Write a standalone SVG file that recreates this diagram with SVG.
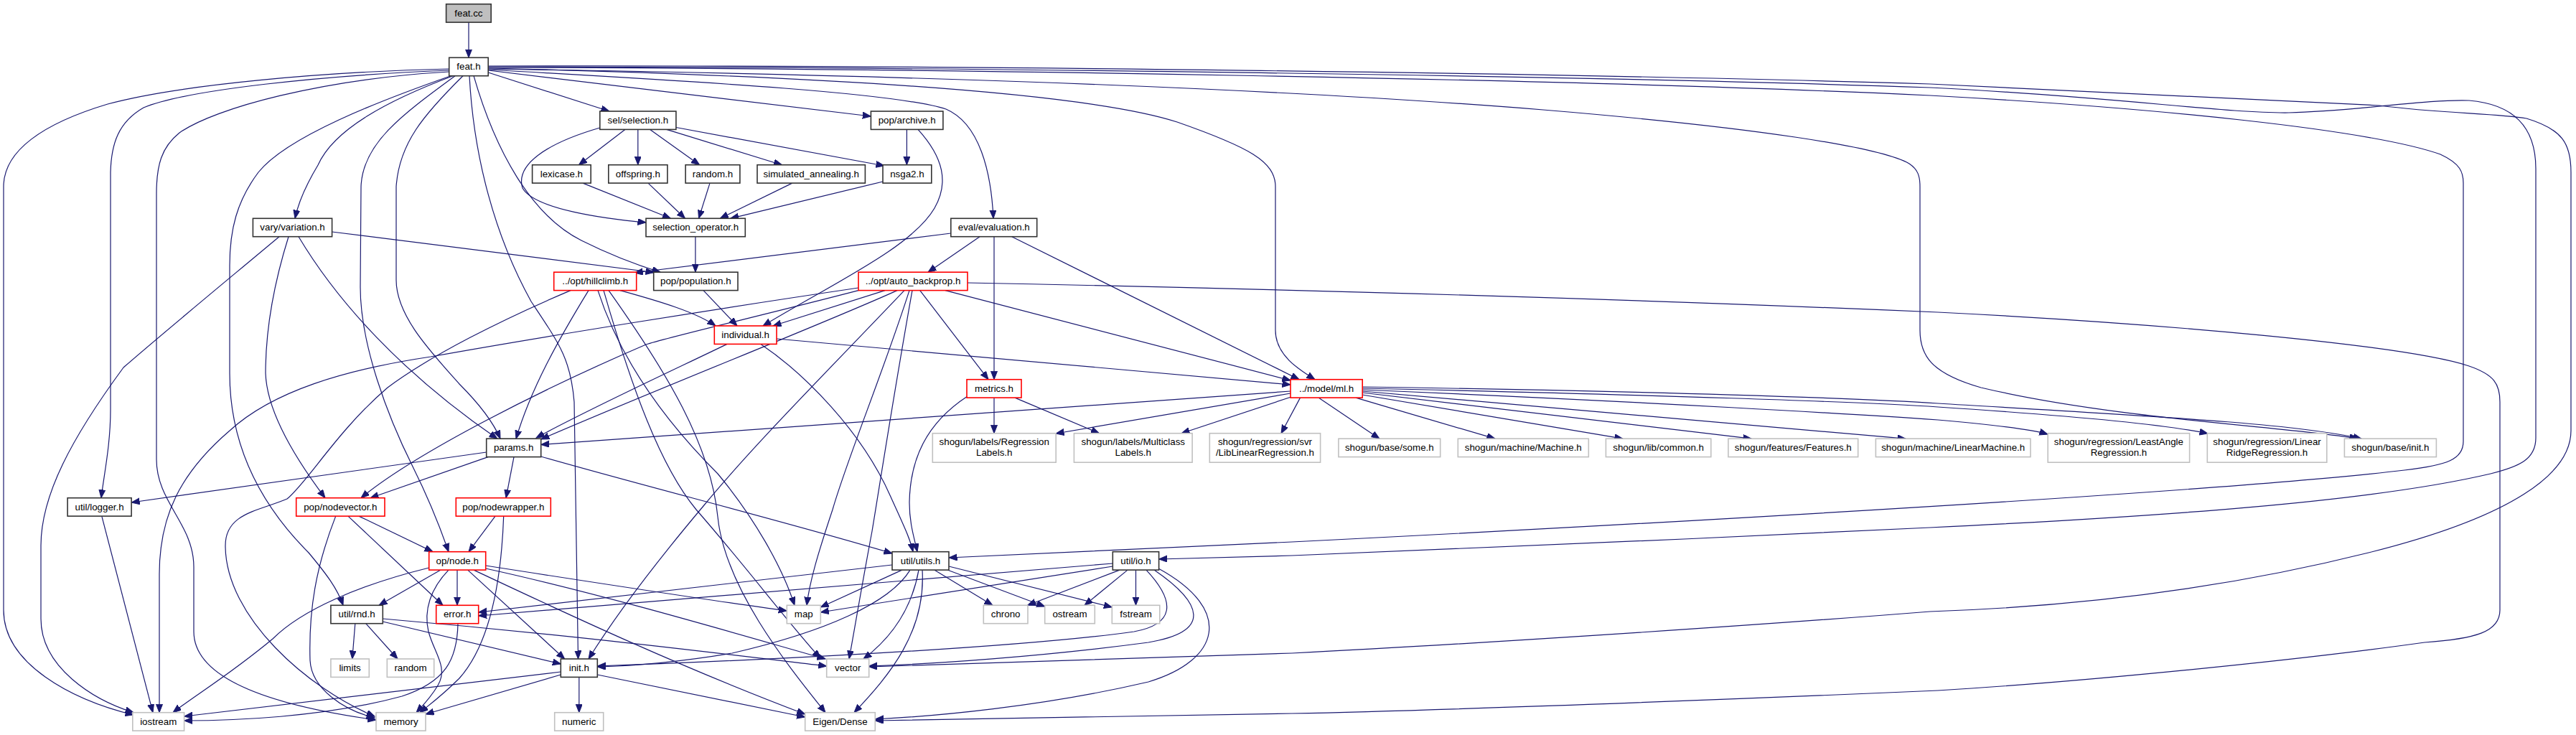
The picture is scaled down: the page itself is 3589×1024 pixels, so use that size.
<svg xmlns="http://www.w3.org/2000/svg" width="3589" height="1024" viewBox="0 0 3589 1024">
<style>
rect{stroke-width:1.6}
.k rect{fill:#fff;stroke:#333}
.c rect{fill:#bfbfbf;stroke:#333}
.r rect{fill:#fff;stroke:#f00}
.g rect{fill:#fff;stroke:#c0c0c0}
text{font-family:"Liberation Sans",Arial,sans-serif;font-size:13.33px;text-anchor:middle;fill:#000}
#edges path{fill:none;stroke:#191970;stroke-width:1.2;marker-end:url(#a)}
</style>
<defs>
<marker id="a" markerWidth="13" markerHeight="10" refX="11.5" refY="4.5" orient="auto" markerUnits="userSpaceOnUse">
<path d="M0,0 L11.5,4.5 L0,9 Z" fill="#191970" stroke="#191970" stroke-width="1"/>
</marker>
</defs>
<rect width="3589" height="1024" fill="#fff" stroke="none"/>
<g id="edges">
<path d="M653,31.1 L653,80.3"/>
<path d="M680.2,101 L849,155"/>
<path d="M680.2,98 L1213.4,162"/>
<path d="M680.2,97 C1000,115 1250,130 1318,152 C1365,172 1381,240 1384,304.3"/>
<path d="M680.2,95 C1100,105 1500,125 1640,170 C1740,205 1777,225 1777,260 L1777,460 C1777,495 1810,515 1832,528.7"/>
<path d="M680.2,96 C1300,105 1800,125 2150,153 C2450,178 2620,205 2660,228 C2672,236 2675,245 2675,260 L2675,460 C2675,495 2690,520 2760,540 C2950,585 3200,595 3285,611.2"/>
<path d="M680.2,94 C1300,95 2200,110 2689,133 C3000,150 3300,180 3400,215 C3428,228 3432,240 3432,255 L3432,615 C3432,640 3410,648 3350,655 C3100,685 2300,730 1800,755 C1600,765 1420,773 1322,777"/>
<path d="M680.2,93 C1300,93 2200,105 2689,122 C2950,135 3100,158 3189,157 C3280,155 3380,138 3440,140 C3500,145 3533,175 3533,235 L3533,610 C3533,640 3510,650 3470,660 C3300,700 3000,720 2689,735 C2400,750 2000,765 1800,774 C1700,777 1650,778 1614.6,779"/>
<path d="M680.2,92 C1300,90 2200,102 2689,117 C3000,130 3250,145 3315,147 C3400,158 3480,158 3520,165 C3570,180 3582,200 3582,240 L3582,600 C3582,660 3500,720 3300,770 C3100,820 2900,845 2689,852 C2400,875 2000,900 1800,910 C1500,920 1300,925 1210.7,929"/>
<path d="M625.7,96 C450,100 250,118 150,145 C60,172 5,210 5,260 L5,850 C5,925 100,975 186,996"/>
<path d="M625.7,98 C450,105 260,125 200,150 C165,170 155,200 154,240 L154,570 C154,620 145,660 141,693.7"/>
<path d="M625.7,100 C450,110 300,150 250,185 C225,205 218,230 218,270 L218,640 C218,700 270,730 270,790 L270,880 C270,960 430,990 524,1003"/>
<path d="M628,105.7 C530,140 400,190 360,240 C330,280 320,320 320,370 L320,520 C320,640 380,720 430,770 C455,800 470,820 478,843.3"/>
<path d="M631,105.7 C540,140 465,180 443,230 C425,260 415,285 411,304.3"/>
<path d="M634,105.7 C560,160 505,200 503,260 L502,400 C502,480 540,580 575,650 C600,700 615,740 625,768.7"/>
<path d="M645,105.7 C590,160 556,200 552,260 L552,390 C552,440 600,490 640,535 C670,565 688,590 697,611.2"/>
<path d="M654,105.7 C660,220 690,330 740,420 C780,480 795,500 800,560 L805.5,918"/>
<path d="M660,105.7 C690,210 740,300 810,335 C850,355 890,370 920,379.2"/>
<path d="M870.8,180.4 L806.5,229.7"/>
<path d="M888.8,180.4 L888.8,229.7"/>
<path d="M905.7,180.4 L974.6,229.7"/>
<path d="M928.7,180.4 L1089.4,229.7"/>
<path d="M941.9,177.5 L1232,231"/>
<path d="M835.8,178 C760,200 718,230 728,262 C745,292 845,305 900,310"/>
<path d="M1263.4,180.4 L1263.4,229.7"/>
<path d="M1279,180.4 C1315,220 1322,255 1302,290 C1270,345 1160,395 1063,454"/>
<path d="M812,255.1 L934.4,304.3"/>
<path d="M903,255.1 L954.5,304.3"/>
<path d="M989,255.1 L973.5,304.3"/>
<path d="M1103.8,255.1 L1003.3,304.3"/>
<path d="M1230,253 L1017.7,304.3"/>
<path d="M968.9,329.7 L968.9,379.2"/>
<path d="M462.6,323 L911,379.5"/>
<path d="M1324.8,325 L884,380"/>
<path d="M1365,329.7 L1293,379.2"/>
<path d="M1385,329.7 L1385,528.7"/>
<path d="M1409.7,329.7 L1810,528.7"/>
<path d="M820,404.6 C780,470 740,540 719,611.2"/>
<path d="M864,404.6 C920,420 970,435 997,454"/>
<path d="M795,404.6 C700,445 600,495 540,540 C470,600 430,670 400,695 C360,712 314,715 314,760 C314,860 430,960 522,998"/>
<path d="M833,404.6 C870,520 950,610 1000,660 C1050,720 1090,790 1107,843.3"/>
<path d="M841,404.6 C880,540 920,650 970,710 C1040,790 1100,870 1143,917"/>
<path d="M848,404.6 C930,520 990,620 1000,720 C1010,820 1100,930 1150,992.7"/>
<path d="M1082,472 L1798,536"/>
<path d="M1013,479.4 C950,510 820,570 747,610"/>
<path d="M1060,479.4 C1120,520 1200,600 1240,690 C1258,730 1268,750 1272,768.7"/>
<path d="M980,404.6 L1027,454"/>
<path d="M1233,404.6 L1077,454"/>
<path d="M1317,404.6 L1798,530"/>
<path d="M1281.7,404.6 L1377,528.7"/>
<path d="M1250,404.6 C1150,450 920,540 753.7,612"/>
<path d="M1196,404.6 C1060,440 930,470 900,480 C760,540 580,630 503,693.7"/>
<path d="M1196,401 C1000,430 750,470 600,497 C480,515 380,545 320,600 C250,660 222,720 222,800 L222,992.7"/>
<path d="M1260,404.6 C1150,520 1050,620 980,705 C900,800 850,870 820,918"/>
<path d="M1267,404.6 C1230,520 1180,640 1160,710 C1140,770 1128,810 1124,843.3"/>
<path d="M1271,404.6 C1245,550 1225,680 1215,740 C1200,820 1190,880 1183,918"/>
<path d="M1347.7,394 C1800,403 2300,418 2700,435 C3000,450 3350,480 3440,510 C3475,522 3483,535 3483,560 L3483,850 C3483,880 3450,890 3378,895 C3200,920 2900,950 2700,962 C2400,975 2000,990 1800,994 C1500,1000 1300,1003 1219.3,1004"/>
<path d="M1385,554.1 L1385,603.7"/>
<path d="M1414,554.1 L1531.5,603.7"/>
<path d="M1348,552 C1290,590 1268,640 1267,700 C1267,730 1274,750 1278,768.7"/>
<path d="M1798,545 L753.7,619.5"/>
<path d="M1798,548 L1471,604"/>
<path d="M1802,552 L1646,603.7"/>
<path d="M1811.5,554.1 L1785,603.7"/>
<path d="M1837,554.1 L1922,611.2"/>
<path d="M1889,554.1 L2083,611.2"/>
<path d="M1898,550 L2261,611.2"/>
<path d="M1898,547 L2440,611.2"/>
<path d="M1898,545 L2655,611.2"/>
<path d="M1898,543 C2300,560 2600,578 2700,585 C2780,592 2830,598 2853,605"/>
<path d="M1898,541 C2300,550 2600,560 2700,567 C2900,580 3020,592 3076,604"/>
<path d="M1898,539 C2300,545 2600,555 2700,562 C3000,580 3200,590 3290,611.2"/>
<path d="M677.7,630 L183.1,700"/>
<path d="M680,636.6 L516,693.7"/>
<path d="M716,636.6 L705,693.7"/>
<path d="M753.7,636 C900,678 1100,728 1243,771"/>
<path d="M389,329.7 C300,404 220,470 172,512 C100,610 57,690 57,760 L57,862 C57,930 130,975 186,992.7"/>
<path d="M402,329.7 C380,400 370,460 370,520 C372,580 420,650 453,693.7"/>
<path d="M416,329.7 C470,420 560,520 693,611.2"/>
<path d="M500,719.1 L603,768.7"/>
<path d="M485,719.1 L617,843.3"/>
<path d="M467.7,719.1 C440,790 430,850 432,920 C434,960 480,990 522,1000"/>
<path d="M690,719.1 L653,768.7"/>
<path d="M701.7,719.1 C698,820 680,900 640,945 C615,970 598,982 585,992.7"/>
<path d="M597.7,791 C500,815 420,850 380,890 C320,940 270,970 241,992.7"/>
<path d="M614,794.1 L528,843.3"/>
<path d="M637,794.1 L637,843.3"/>
<path d="M625,794.1 C600,820 590,850 597,880 C605,910 625,930 610,955 C600,972 590,982 580,992.7"/>
<path d="M651.7,794.1 L786.7,918"/>
<path d="M676.7,788 C850,815 1000,838 1096.3,851"/>
<path d="M676.7,792 C850,830 1050,890 1150,918"/>
<path d="M660,794.1 C800,860 950,930 1121.7,995"/>
<path d="M494.8,868.7 L490.8,918"/>
<path d="M509.7,868.7 L554,918"/>
<path d="M533.3,866 L781.3,925"/>
<path d="M533.3,862 C800,885 1000,910 1151.7,928"/>
<path d="M638,868.7 C637,920 620,950 560,970 C450,1000 320,1004 256.6,1004"/>
<path d="M806.8,943.4 L806.8,992.7"/>
<path d="M781.3,940 L593,995"/>
<path d="M781.3,936 L256.6,998"/>
<path d="M832.3,940 L1121.7,999"/>
<path d="M141.8,719.1 L213,992.7"/>
<path d="M1243,787 L666.7,853"/>
<path d="M1268,794.1 C1240,840 1150,880 1020,910 C930,925 870,928 832.3,929"/>
<path d="M1256.7,794.1 L1143.3,846"/>
<path d="M1280,794.1 C1270,850 1240,890 1203,918"/>
<path d="M1285,794.1 C1290,880 1240,940 1190,992.7"/>
<path d="M1301.7,794.1 L1383,843.3"/>
<path d="M1320,794 L1455.7,845"/>
<path d="M1322,789 L1549.3,846"/>
<path d="M1550.3,785 L666.7,858"/>
<path d="M1550.3,789 L1143.3,853"/>
<path d="M1560,794.1 L1431.6,843.3"/>
<path d="M1571,794.1 L1511,843.3"/>
<path d="M1582.5,794.1 L1582.5,843.3"/>
<path d="M1597,794.1 C1640,840 1635,870 1580,880 C1400,905 1000,922 832.3,928"/>
<path d="M1608,794.1 C1675,840 1690,880 1600,895 C1450,915 1300,925 1210.7,928"/>
<path d="M1614,792 C1720,850 1700,920 1600,950 C1450,985 1300,998 1219.3,1002"/>
</g>
<g id="n_featcc" class="c"><rect x="621.6" y="5.7" width="62.6" height="25.4"/><text x="652.9" y="22.7">feat.cc</text></g>
<g id="n_feath" class="k"><rect x="625.7" y="80.3" width="54.5" height="25.4"/><text x="652.95" y="97.3">feat.h</text></g>
<g id="n_sel" class="k"><rect x="835.8" y="155" width="106.1" height="25.4"/><text x="888.85" y="172">sel/selection.h</text></g>
<g id="n_archive" class="k"><rect x="1213.4" y="155" width="100.5" height="25.4"/><text x="1263.65" y="172">pop/archive.h</text></g>
<g id="n_lexicase" class="k"><rect x="741.6" y="229.7" width="81.6" height="25.4"/><text x="782.4" y="246.7">lexicase.h</text></g>
<g id="n_offspring" class="k"><rect x="847.8" y="229.7" width="82.1" height="25.4"/><text x="888.85" y="246.7">offspring.h</text></g>
<g id="n_random_h" class="k"><rect x="955.1" y="229.7" width="75.8" height="25.4"/><text x="993" y="246.7">random.h</text></g>
<g id="n_sa" class="k"><rect x="1055" y="229.7" width="150.4" height="25.4"/><text x="1130.2" y="246.7">simulated_annealing.h</text></g>
<g id="n_nsga2" class="k"><rect x="1230" y="229.7" width="67.8" height="25.4"/><text x="1263.9" y="246.7">nsga2.h</text></g>
<g id="n_variation" class="k"><rect x="352.4" y="304.3" width="110.2" height="25.4"/><text x="407.5" y="321.3">vary/variation.h</text></g>
<g id="n_selop" class="k"><rect x="900" y="304.3" width="138.3" height="25.4"/><text x="969.15" y="321.3">selection_operator.h</text></g>
<g id="n_eval" class="k"><rect x="1324.8" y="304.3" width="119.9" height="25.4"/><text x="1384.75" y="321.3">eval/evaluation.h</text></g>
<g id="n_hillclimb" class="r"><rect x="771.7" y="379.2" width="115" height="25.4"/><text x="829.2" y="396.2">../opt/hillclimb.h</text></g>
<g id="n_population" class="k"><rect x="910.7" y="379.2" width="117.3" height="25.4"/><text x="969.35" y="396.2">pop/population.h</text></g>
<g id="n_autobp" class="r"><rect x="1196" y="379.2" width="152" height="25.4"/><text x="1272" y="396.2">../opt/auto_backprop.h</text></g>
<g id="n_individual" class="r"><rect x="995.3" y="454" width="86.7" height="25.4"/><text x="1038.65" y="471">individual.h</text></g>
<g id="n_metrics" class="r"><rect x="1347" y="528.7" width="76" height="25.4"/><text x="1385" y="545.7">metrics.h</text></g>
<g id="n_ml" class="r"><rect x="1798" y="528.7" width="100.2" height="25.4"/><text x="1848.1" y="545.7">../model/ml.h</text></g>
<g id="n_params" class="k"><rect x="677.7" y="611.2" width="76" height="25.4"/><text x="715.7" y="628.2">params.h</text></g>
<g id="n_reglabels" class="g"><rect x="1299.3" y="603.7" width="171.9" height="40.5"/><text x="1385.25" y="620.2">shogun/labels/Regression</text><text x="1385.25" y="635.2">Labels.h</text></g>
<g id="n_mclabels" class="g"><rect x="1496.4" y="603.7" width="164.7" height="40.5"/><text x="1578.75" y="620.2">shogun/labels/Multiclass</text><text x="1578.75" y="635.2">Labels.h</text></g>
<g id="n_liblinear" class="g"><rect x="1685.3" y="603.7" width="154.3" height="40.5"/><text x="1762.45" y="620.2">shogun/regression/svr</text><text x="1762.45" y="635.2">/LibLinearRegression.h</text></g>
<g id="n_some" class="g"><rect x="1864.9" y="611.2" width="141.8" height="25.4"/><text x="1935.8" y="628.2">shogun/base/some.h</text></g>
<g id="n_machine" class="g"><rect x="2031.3" y="611.2" width="182" height="25.4"/><text x="2122.3" y="628.2">shogun/machine/Machine.h</text></g>
<g id="n_common" class="g"><rect x="2237.4" y="611.2" width="146.4" height="25.4"/><text x="2310.6" y="628.2">shogun/lib/common.h</text></g>
<g id="n_features" class="g"><rect x="2407.9" y="611.2" width="180.8" height="25.4"/><text x="2498.3" y="628.2">shogun/features/Features.h</text></g>
<g id="n_linmachine" class="g"><rect x="2613.4" y="611.2" width="215.6" height="25.4"/><text x="2721.2" y="628.2">shogun/machine/LinearMachine.h</text></g>
<g id="n_leastangle" class="g"><rect x="2853.2" y="603.7" width="197.4" height="40.5"/><text x="2951.9" y="620.2">shogun/regression/LeastAngle</text><text x="2951.9" y="635.2">Regression.h</text></g>
<g id="n_ridge" class="g"><rect x="3075.3" y="603.7" width="166.5" height="40.5"/><text x="3158.55" y="620.2">shogun/regression/Linear</text><text x="3158.55" y="635.2">RidgeRegression.h</text></g>
<g id="n_sginit" class="g"><rect x="3266.4" y="611.2" width="128" height="25.4"/><text x="3330.4" y="628.2">shogun/base/init.h</text></g>
<g id="n_logger" class="k"><rect x="94.1" y="693.7" width="89" height="25.4"/><text x="138.6" y="710.7">util/logger.h</text></g>
<g id="n_nodevector" class="r"><rect x="412.7" y="693.7" width="123.3" height="25.4"/><text x="474.35" y="710.7">pop/nodevector.h</text></g>
<g id="n_nodewrapper" class="r"><rect x="635.3" y="693.7" width="132" height="25.4"/><text x="701.3" y="710.7">pop/nodewrapper.h</text></g>
<g id="n_node" class="r"><rect x="597.7" y="768.7" width="79" height="25.4"/><text x="637.2" y="785.7">op/node.h</text></g>
<g id="n_utils" class="k"><rect x="1243" y="768.7" width="79" height="25.4"/><text x="1282.5" y="785.7">util/utils.h</text></g>
<g id="n_io" class="k"><rect x="1550.3" y="768.7" width="64.3" height="25.4"/><text x="1582.45" y="785.7">util/io.h</text></g>
<g id="n_rnd" class="k"><rect x="460.9" y="843.3" width="72.4" height="25.4"/><text x="497.1" y="860.3">util/rnd.h</text></g>
<g id="n_error" class="r"><rect x="607.7" y="843.3" width="59" height="25.4"/><text x="637.2" y="860.3">error.h</text></g>
<g id="n_map" class="g"><rect x="1096.3" y="843.3" width="47" height="25.4"/><text x="1119.8" y="860.3">map</text></g>
<g id="n_chrono" class="g"><rect x="1370.3" y="843.3" width="61.7" height="25.4"/><text x="1401.15" y="860.3">chrono</text></g>
<g id="n_ostream" class="g"><rect x="1455.7" y="843.3" width="69.6" height="25.4"/><text x="1490.5" y="860.3">ostream</text></g>
<g id="n_fstream" class="g"><rect x="1549.3" y="843.3" width="66.5" height="25.4"/><text x="1582.55" y="860.3">fstream</text></g>
<g id="n_limits" class="g"><rect x="460.9" y="918" width="53.4" height="25.4"/><text x="487.6" y="935">limits</text></g>
<g id="n_random" class="g"><rect x="539.3" y="918" width="65.4" height="25.4"/><text x="572" y="935">random</text></g>
<g id="n_init" class="k"><rect x="781.3" y="918" width="51" height="25.4"/><text x="806.8" y="935">init.h</text></g>
<g id="n_vector" class="g"><rect x="1151.7" y="918" width="59" height="25.4"/><text x="1181.2" y="935">vector</text></g>
<g id="n_iostream" class="g"><rect x="184.8" y="992.7" width="71.8" height="25.4"/><text x="220.7" y="1009.7">iostream</text></g>
<g id="n_memory" class="g"><rect x="524" y="992.7" width="69" height="25.4"/><text x="558.5" y="1009.7">memory</text></g>
<g id="n_numeric" class="g"><rect x="772.7" y="992.7" width="68" height="25.4"/><text x="806.7" y="1009.7">numeric</text></g>
<g id="n_eigen" class="g"><rect x="1121.7" y="992.7" width="97.6" height="25.4"/><text x="1170.5" y="1009.7">Eigen/Dense</text></g>
</svg>
